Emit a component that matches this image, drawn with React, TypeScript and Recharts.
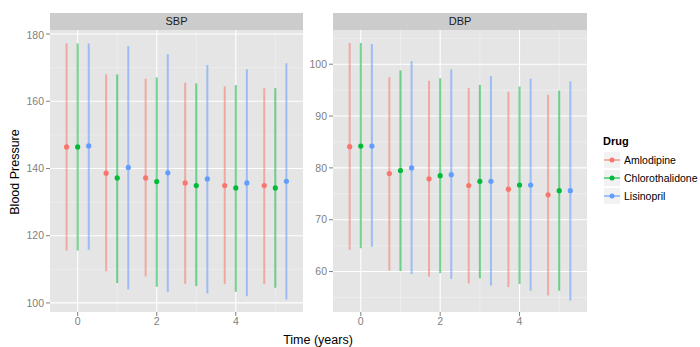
import React from "react";
import { CartesianGrid, ErrorBar, Scatter, ScatterChart, XAxis, YAxis } from "recharts";

const times = [0, 1, 2, 3, 4, 5];
const drugs = ["Amlodipine", "Chlorothalidone", "Lisinopril"];
const colors = ["#F8766D", "#00BA38", "#619CFF"];

// one row per drug, one value per year
const sbpMean = [
  [146.4, 138.6, 137.2, 135.7, 134.9, 134.9],
  [146.4, 137.2, 136.1, 134.9, 134.2, 134.2],
  [146.7, 140.3, 138.7, 136.9, 135.7, 136.2],
];
const sbpLow = [
  [115.6, 109.4, 107.9, 105.7, 105.6, 105.6],
  [115.6, 105.9, 104.8, 105.0, 103.3, 104.5],
  [115.8, 104.0, 103.3, 102.8, 102.0, 101.0],
];
const sbpHigh = [
  [177.2, 168.0, 166.7, 165.5, 164.4, 163.9],
  [177.2, 168.0, 167.1, 165.3, 164.8, 163.9],
  [177.2, 176.4, 174.0, 170.8, 169.5, 171.3],
];

const dbpMean = [
  [84.1, 78.9, 77.9, 76.6, 75.9, 74.8],
  [84.2, 79.5, 78.5, 77.4, 76.7, 75.6],
  [84.2, 80.0, 78.7, 77.4, 76.7, 75.6],
];
const dbpLow = [
  [64.2, 60.2, 59.0, 57.7, 57.0, 55.4],
  [64.5, 60.1, 59.7, 58.7, 57.6, 56.3],
  [64.8, 59.5, 58.6, 57.3, 56.3, 54.4],
];
const dbpHigh = [
  [104.1, 97.5, 96.8, 95.4, 94.7, 94.1],
  [104.1, 98.8, 97.3, 96.0, 95.7, 94.9],
  [103.9, 100.6, 99.0, 97.7, 97.2, 96.7],
];

const xTicks = [0, 2, 4];
const xMinor = [1, 3, 5];
const sbpTicks = [100, 120, 140, 160, 180];
const sbpMinor = [110, 130, 150, 170];
const dbpTicks = [60, 70, 80, 90, 100];
const dbpMinor = [55, 65, 75, 85, 95, 105];

const dodge = [-0.28, 0, 0.28];
const font = "'Liberation Sans', Arial, sans-serif";
const tickStyle = { fill: "#808080", fontSize: 10.5, fontFamily: font };

function rows(mean: number[][], low: number[][], high: number[][], d: number) {
  return times.map((t, i) => ({
    x: t + dodge[d],
    y: mean[d][i],
    err: [mean[d][i] - low[d][i], high[d][i] - mean[d][i]],
  }));
}

const dot = (color: string) => (props: any) =>
  <circle cx={props.cx} cy={props.cy} r={2.6} fill={color} />;

function Panel(props: {
  title: string; left: number; width: number; yWidth: number;
  mean: number[][]; low: number[][]; high: number[][];
  domain: [number, number]; ticks: number[]; minor: number[];
}) {
  const { title, left, width, yWidth, mean, low, high, domain, ticks, minor } = props;
  return (
    <>
      <div style={{
        position: "absolute", left: left + yWidth, top: 13, width: width - yWidth, height: 17,
        background: "#CCCCCC", fontFamily: font, fontSize: 11, lineHeight: "17px",
        textAlign: "center", color: "#1A1A1A",
      }}>{title}</div>
      <div style={{ position: "absolute", left, top: 30 }}>
        <ScatterChart width={width} height={312} margin={{ top: 0, right: 0, bottom: 0, left: 0 }}>
          <CartesianGrid fill="#E5E5E5" stroke="#F2F2F2" strokeWidth={0.6}
            horizontalValues={minor} verticalValues={xMinor} />
          <CartesianGrid fill="none" stroke="#FFFFFF" strokeWidth={1.1}
            horizontalValues={ticks} verticalValues={xTicks} />
          <XAxis type="number" dataKey="x" domain={[-0.7, 5.7]} ticks={xTicks}
            allowDataOverflow axisLine={false} tickSize={4} height={30}
            tickLine={{ stroke: "#7F7F7F" }} tick={tickStyle} />
          <YAxis type="number" dataKey="y" domain={domain} ticks={ticks}
            allowDataOverflow axisLine={false} tickSize={4} width={yWidth}
            tickLine={{ stroke: "#7F7F7F" }} tick={tickStyle} />
          {drugs.map((name, d) => (
            <Scatter key={name} name={name} data={rows(mean, low, high, d)}
              shape={dot(colors[d])} isAnimationActive={false}>
              <ErrorBar dataKey="err" direction="y" width={0} stroke={colors[d]}
                strokeOpacity={0.55} strokeWidth={2} />
            </Scatter>
          ))}
        </ScatterChart>
      </div>
    </>
  );
}

export default function App() {
  return (
    <div style={{ position: "absolute", left: 0, top: 0, width: 700, height: 347, background: "#fff", fontFamily: font }}>
      <Panel title="SBP" left={0} width={303} yWidth={50}
        mean={sbpMean} low={sbpLow} high={sbpHigh}
        domain={[97.3, 181.2]} ticks={sbpTicks} minor={sbpMinor} />
      <Panel title="DBP" left={303} width={284} yWidth={30}
        mean={dbpMean} low={dbpLow} high={dbpHigh}
        domain={[52.2, 106.6]} ticks={dbpTicks} minor={dbpMinor} />

      <div style={{
        position: "absolute", left: 15, top: 172, transform: "translate(-50%, -50%) rotate(-90deg)",
        fontSize: 12.5, whiteSpace: "nowrap", color: "#000",
      }}>Blood Pressure</div>
      <div style={{
        position: "absolute", left: 318, top: 340, transform: "translate(-50%, -50%)",
        fontSize: 12.5, whiteSpace: "nowrap", color: "#000",
      }}>Time (years)</div>

      <div style={{ position: "absolute", left: 603, top: 135 }}>
        <div style={{ fontSize: 11, fontWeight: "bold", height: 16 }}>Drug</div>
        {drugs.map((name, d) => (
          <div key={name} style={{ display: "flex", alignItems: "center", height: 18 }}>
            <svg width={18} height={18}>
              <rect x={0.5} y={0.5} width={17} height={17} fill="#F2F2F2" stroke="#fff" />
              <line x1={1} x2={17} y1={9} y2={9} stroke={colors[d]} strokeOpacity={0.55} strokeWidth={2} />
              <circle cx={9} cy={9} r={2.5} fill={colors[d]} />
            </svg>
            <span style={{ fontSize: 10.5, marginLeft: 3 }}>{name}</span>
          </div>
        ))}
      </div>
    </div>
  );
}
